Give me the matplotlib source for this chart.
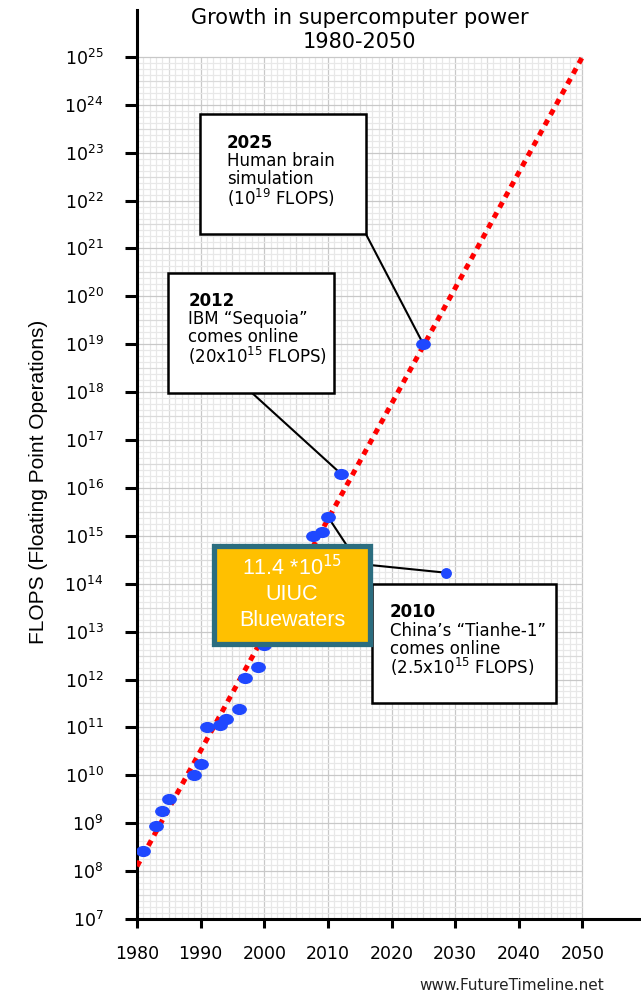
import numpy as np
import matplotlib
matplotlib.use('Agg')
import matplotlib.pyplot as plt
from matplotlib.path import Path
from matplotlib.patches import Rectangle
from matplotlib.ticker import NullLocator
from matplotlib.transforms import Affine2D


# supercomputer performance by year (FLOPS)
years = [1981, 1983, 1984, 1985, 1989, 1990, 1991, 1993, 1994, 1996,
         1997, 1999, 2000, 2007.7, 2009, 2010, 2012, 2025]
flops = [2.6e8, 8.9e8, 1.8e9, 3.2e9, 1.0e10, 1.7e10, 1.0e11, 1.15e11, 1.5e11, 2.4e11,
         1.1e12, 1.8e12, 5.2e12, 1.0e15, 1.2e15, 2.5e15, 2.0e16, 1.0e19]

# trend line
trend_years = [1980, 2050]
trend_flops = [1.26e8, 1.0e25]

# Bluewaters callout pointer
bw_year = 2028.5
bw_flops = 1.7e14

tick_years = [1980, 1990, 2000, 2010, 2020, 2030, 2040, 2050]
tick_exps = list(range(7, 26))

BLUE = '#1f48ff'

fig = plt.figure(figsize=(6.41, 9.94), dpi=100)
ax = fig.add_axes([137 / 641, 75 / 994, 504 / 641, 908.6 / 994])
ax.set_yscale('log')
ax.set_xlim(1980, 2059.2)
ax.set_ylim(1e7, 10 ** 25.97)

# graph paper background
for yr in range(1980, 2051):
    if yr % 10 == 0:
        c = '#c8c8c8'
    elif yr % 5 == 0:
        c = '#dadada'
    else:
        c = '#e8e8e8'
    ax.vlines(yr, 1e7, 1e25, color=c, lw=0.9, zorder=0)
for k in range(0, 18 * 8 + 1):
    e = 7 + k / 8
    c = '#c8c8c8' if k % 8 == 0 else ('#dadada' if k % 4 == 0 else '#e8e8e8')
    ax.hlines(10 ** e, 1980, 2050, color=c, lw=0.9, zorder=0)

# trend
ax.plot(trend_years, trend_flops, color='red', lw=3.6, dashes=(1.2, 1.15), zorder=3)

# elliptical dots
ellipse = Path.unit_circle().transformed(Affine2D().scale(1.37, 1.0))
ax.plot(years, flops, ls='none', marker=ellipse, ms=9.6, color=BLUE, mec=BLUE, zorder=4.5)
ax.plot([bw_year], [bw_flops], ls='none', marker='o', ms=6.8, color=BLUE, mec=BLUE, zorder=4.5)

# axes styling
for s in ['top', 'right']:
    ax.spines[s].set_visible(False)
for s in ['left', 'bottom']:
    ax.spines[s].set_linewidth(2.2)
    ax.spines[s].set_color('black')

ax.set_xticks(tick_years)
ax.set_xticklabels([str(t) for t in tick_years], fontsize=12.5, family='DejaVu Sans')
ax.set_yticks([10.0 ** e for e in tick_exps])
ax.set_yticklabels([r'$\mathregular{10^{%d}}$' % e for e in tick_exps], fontsize=12.5)
ax.yaxis.set_minor_locator(NullLocator())
ax.xaxis.set_minor_locator(NullLocator())
ax.tick_params(axis='x', direction='out', length=6.5, width=2.2, pad=12.5)
ax.tick_params(axis='y', direction='out', length=8.6, width=2.2, pad=15.5)

# annotation boxes
def note_box(x0, y0, x1, y1, header, lines, tx, ty):
    ax.add_patch(Rectangle((x0, y0), x1 - x0, y1 - y0, transform=ax.transAxes,
                           fc='white', ec='black', lw=1.8, zorder=5))
    ax.text(tx, ty, header, transform=ax.transAxes, fontsize=12, fontweight='bold',
            va='center', ha='left', zorder=7)
    for i, line in enumerate(lines):
        ax.text(tx, ty - 0.0202 * (i + 1), line, transform=ax.transAxes, fontsize=12,
                va='center', ha='left', zorder=7)


def connector(x, y, fx, fy):
    ax.annotate('', xy=(x, y), xycoords='data', xytext=(fx, fy), textcoords='axes fraction',
                arrowprops=dict(arrowstyle='-', color='black', lw=1.5, shrinkA=0, shrinkB=0),
                zorder=4)


connector(years[-1], flops[-1], 0.4544, 0.7536)
connector(years[-2], flops[-2], 0.2276, 0.5793)
connector(years[-3], flops[-3], 0.4669, 0.3684)
connector(bw_year, bw_flops, 0.4623, 0.3896)

note_box(0.125, 0.7536, 0.4544, 0.8857, '2025',
         ['Human brain', 'simulation', '(10$^{19}$ FLOPS)'], 0.1786, 0.8546)
note_box(0.0621, 0.5793, 0.3909, 0.7113, '2012',
         ['IBM \u201cSequoia\u201d', 'comes online', '(20x10$^{15}$ FLOPS)'], 0.1018, 0.6805)
note_box(0.4669, 0.2374, 0.8313, 0.3684, '2010',
         ['China\u2019s \u201cTianhe-1\u201d', 'comes online', '(2.5x10$^{15}$ FLOPS)'], 0.502, 0.3376)

# Bluewaters callout
ax.add_patch(Rectangle((0.1528, 0.3032), 0.4623 - 0.1528, 0.4105 - 0.3032, transform=ax.transAxes,
                       fc='#ffc000', ec='#2b6d7f', lw=3.8, zorder=6))
for txt, fy in [('11.4 *10$^{15}$', 0.3863), ('UIUC', 0.3566), ('Bluewaters', 0.3283)]:
    ax.text(0.3075, fy, txt, transform=ax.transAxes, fontsize=15.5, color='white',
            family='Liberation Sans', ha='center', va='center', zorder=7)

# titles and labels
fig.text(0.561, 0.9814, 'Growth in supercomputer power', fontsize=15, ha='center', va='center')
fig.text(0.561, 0.9582, '1980-2050', fontsize=15, ha='center', va='center')
fig.text(0.0608, 0.5154, 'FLOPS (Floating Point Operations)', rotation=90, fontsize=15,
         family='Liberation Sans', ha='center', va='center')
fig.text(0.799, 0.004, 'www.FutureTimeline.net', fontsize=11, color='#222222',
         ha='center', va='baseline')

fig.savefig('out.png', dpi=100)
